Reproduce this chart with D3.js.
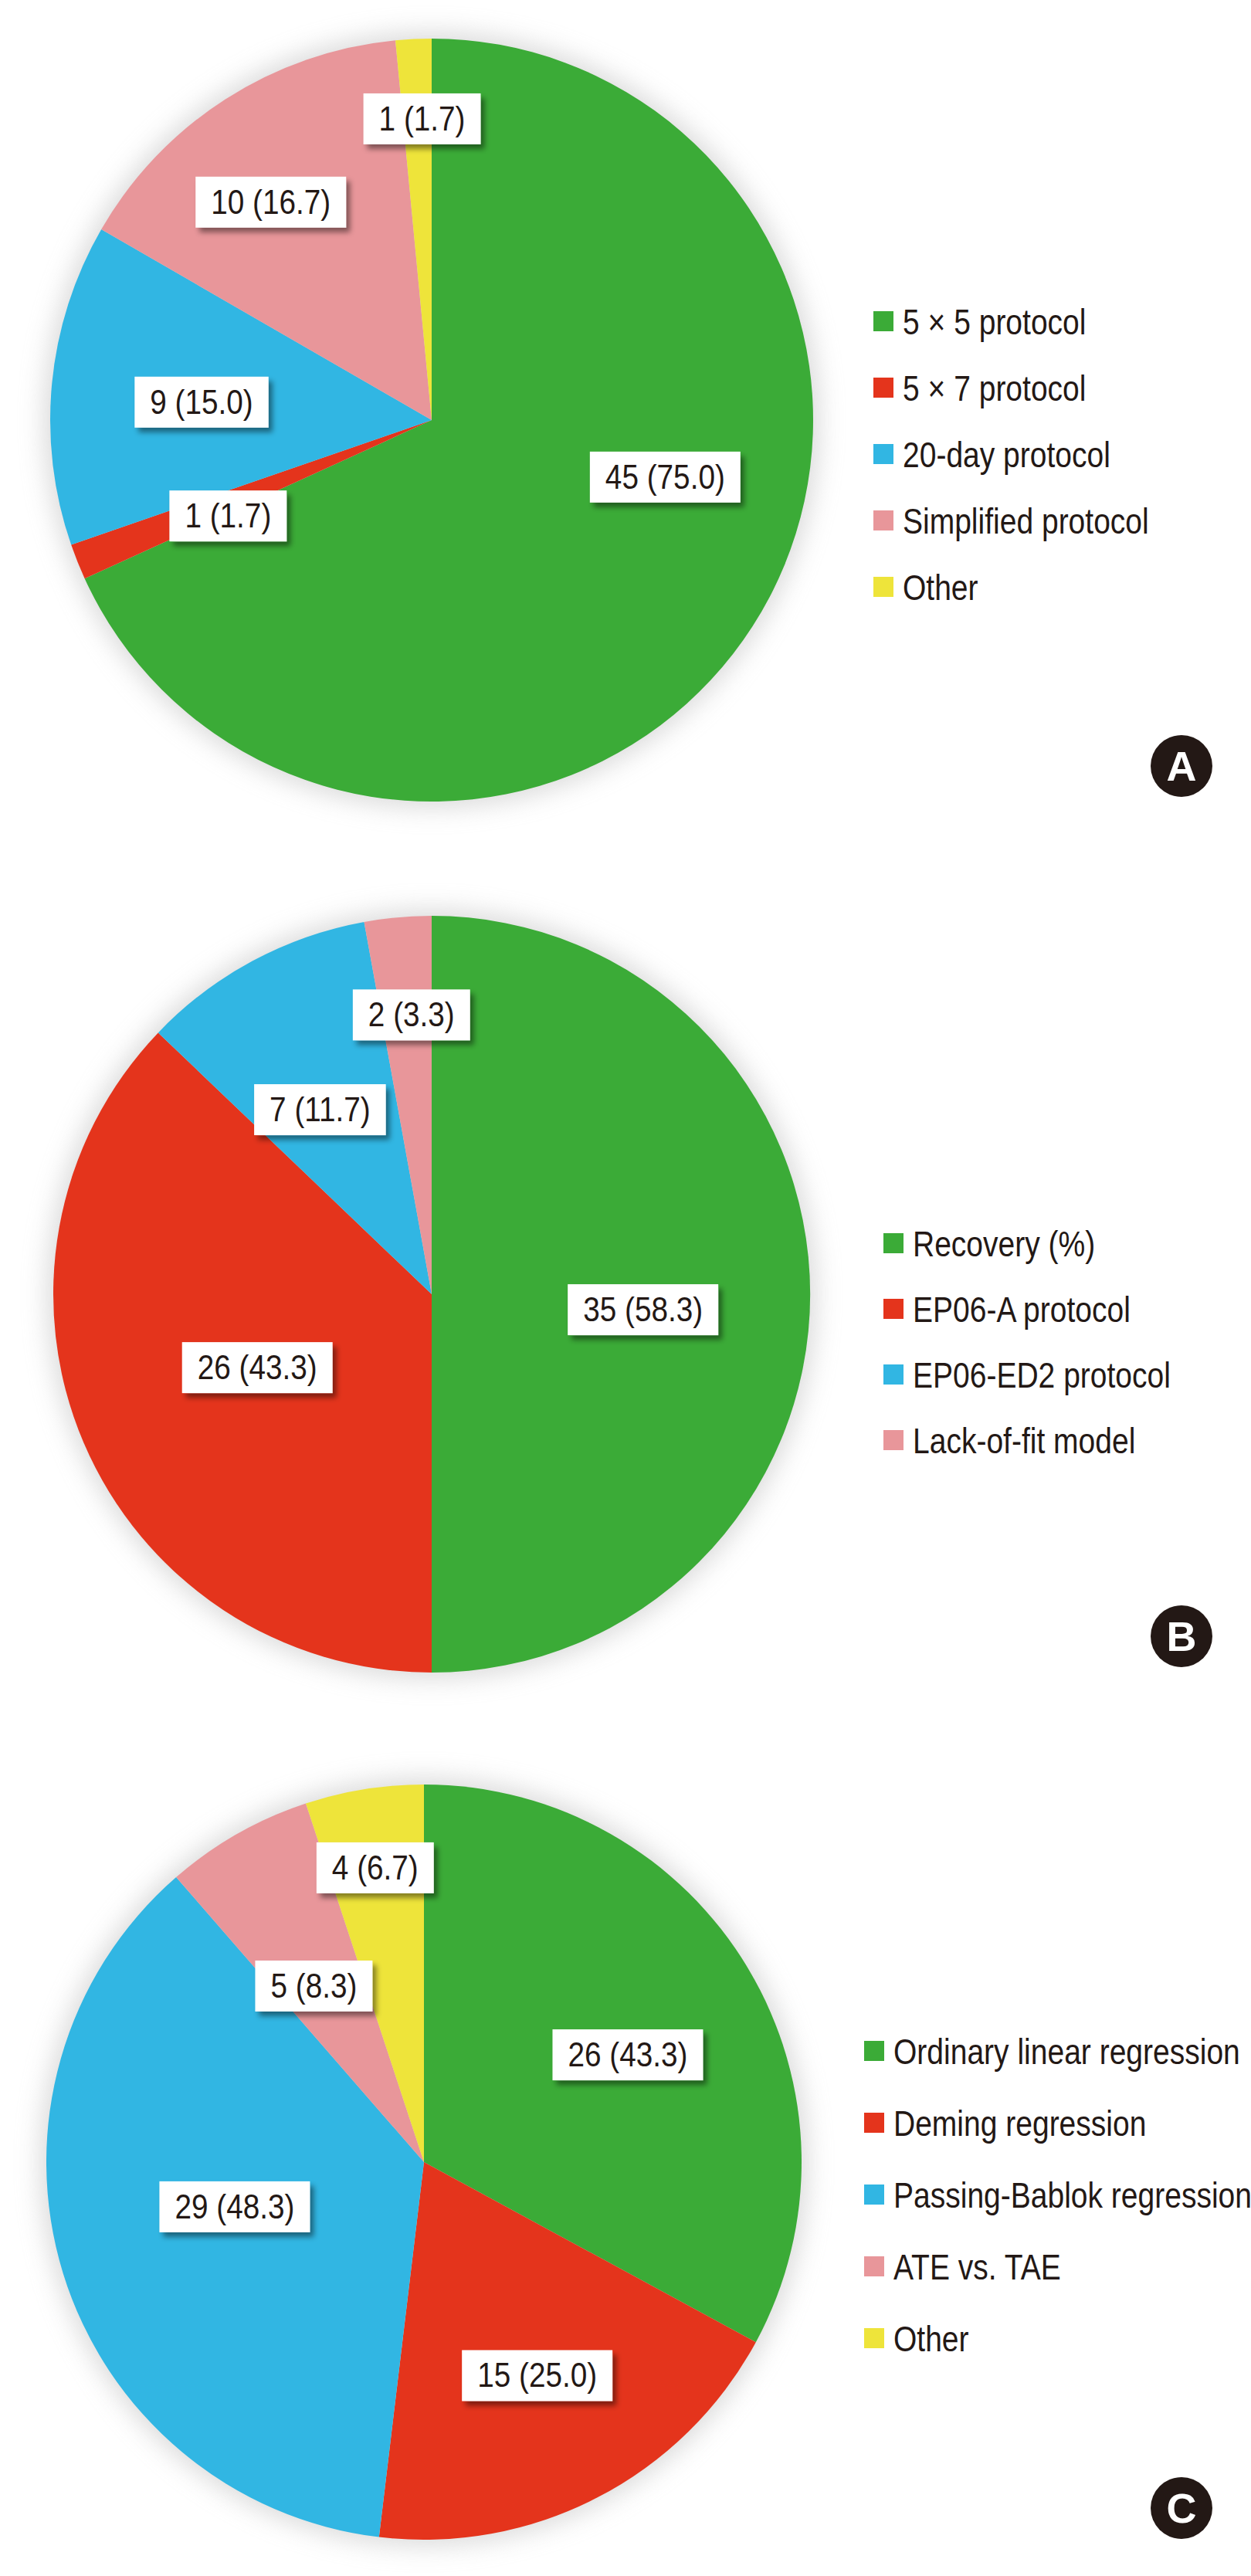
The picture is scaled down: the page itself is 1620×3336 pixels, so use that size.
<!DOCTYPE html>
<html>
<head>
<meta charset="utf-8">
<script src="https://cdn.jsdelivr.net/npm/d3@7"></script>
<style>
  html, body { margin: 0; padding: 0; background: #fff; }
  svg { display: block; }
</style>
</head>
<body>
<svg id="chart"></svg>
<script>
const width = 1620
const height = 3336

// number of labs answering; percentages in the labels are value / totalLabs
const totalLabs = 60

const sliceColors = ["#3bab37", "#e4341c", "#31b6e3", "#e8969a", "#eee43a"]

const catsA = ["5 × 5 protocol", "5 × 7 protocol", "20-day protocol", "Simplified protocol", "Other"]
const valsA = [45, 1, 9, 10, 1]

const catsB = ["Recovery (%)", "EP06-A protocol", "EP06-ED2 protocol", "Lack-of-fit model"]
const valsB = [35, 26, 7, 2]

const catsC = ["Ordinary linear regression", "Deming regression", "Passing-Bablok regression", "ATE vs. TAE", "Other"]
const valsC = [26, 15, 29, 5, 4]

// layout of each panel (label boxes: fraction of radius + angle nudge in degrees)
const panels = [
  { tag: "A", cats: catsA, vals: valsA, cx: 559, cy: 544, r: 494,
    legX: 1131, legY: 416, legStep: 86, badge: [1530, 992],
    labR: [.63, .59, .605, .71, .79], labShift: [-19, -3.4, -1, -3.7, .9] },
  { tag: "B", cats: catsB, vals: valsB, cx: 559, cy: 1676, r: 490,
    legX: 1144, legY: 1610, legStep: 85, badge: [1530, 2119],
    labR: [.56, .50, .57, .74], labShift: [4.2, .3, -2.9, 1] },
  { tag: "C", cats: catsC, vals: valsC, cx: 549, cy: 2800, r: 489,
    legX: 1119, legY: 2656, legStep: 93, badge: [1530, 3248],
    labR: [.61, .64, .515, .55, .79], labShift: [3, -.6, 3.8, -2.4, -.3] }
]

// no narrow font installed: squeeze Liberation Sans horizontally instead
const font = "'Liberation Sans', Arial, sans-serif"
const labelSqueeze = .88
const legendSqueeze = .83

const svg = d3.select("#chart")
  .attr("width", width)
  .attr("height", height)

const defs = svg.append("defs")
defs.append("filter").attr("id", "glow")
  .attr("x", "-20%").attr("y", "-20%").attr("width", "140%").attr("height", "140%")
  .append("feGaussianBlur").attr("stdDeviation", 16)

const shadow = defs.append("filter").attr("id", "boxShadow")
  .attr("x", "-20%").attr("y", "-30%").attr("width", "150%").attr("height", "180%")
shadow.append("feDropShadow")
  .attr("dx", 5).attr("dy", 6).attr("stdDeviation", 3.5)
  .attr("flood-color", "#000").attr("flood-opacity", .45)

const fmt = v => v + " (" + (v / totalLabs * 100).toFixed(1) + ")"

panels.forEach(p => {
  const g = svg.append("g")
  const color = d3.scaleOrdinal().domain(p.cats).range(sliceColors)
  const pie = d3.pie().sort(null).value(d => d.v)
  const arcs = pie(p.cats.map((c, i) => ({ c: c, v: p.vals[i] })))
  const arc = d3.arc().innerRadius(0).outerRadius(p.r)

  // soft grey halo round the pie
  g.append("circle")
    .attr("cx", p.cx).attr("cy", p.cy).attr("r", p.r + 8)
    .attr("fill", "#bdbdbd").attr("opacity", .55)
    .attr("filter", "url(#glow)")

  const pieG = g.append("g").attr("transform", `translate(${p.cx},${p.cy})`)
  pieG.selectAll("path")
    .data(arcs).enter()
    .append("path")
    .attr("d", arc)
    .attr("fill", d => color(d.data.c))

  // value labels in white boxes
  const labels = pieG.selectAll("g.lab")
    .data(arcs).enter()
    .append("g").attr("class", "lab")
    .attr("transform", (d, i) => {
      const a = (d.startAngle + d.endAngle) / 2 + p.labShift[i] * Math.PI / 180
      const rr = p.labR[i] * p.r
      return `translate(${rr * Math.sin(a)},${-rr * Math.cos(a)})`
    })
  const rects = labels.append("rect")
    .attr("fill", "#fff")
    .attr("filter", "url(#boxShadow)")
  const texts = labels.append("text")
    .attr("text-anchor", "middle")
    .attr("transform", `translate(0,15) scale(${labelSqueeze},1)`)
    .attr("font-family", font)
    .attr("font-size", 44)
    .attr("fill", "#231815")
    .text(d => fmt(d.data.v))
  texts.each(function(d, i) {
    const w = this.getComputedTextLength() * labelSqueeze + 40
    d3.select(rects.nodes()[i])
      .attr("x", -w / 2).attr("y", -33)
      .attr("width", w).attr("height", 66)
  })

  // legend
  const rows = g.append("g").selectAll("g")
    .data(p.cats).enter()
    .append("g")
    .attr("transform", (d, i) => `translate(${p.legX},${p.legY + i * p.legStep})`)
  rows.append("rect")
    .attr("x", 0).attr("y", -13)
    .attr("width", 26).attr("height", 26)
    .attr("fill", d => color(d))
  rows.append("text")
    .attr("transform", `translate(38,17) scale(${legendSqueeze},1)`)
    .attr("font-family", font)
    .attr("font-size", 47)
    .attr("fill", "#231815")
    .text(d => d)

  // panel badge
  g.append("circle")
    .attr("cx", p.badge[0]).attr("cy", p.badge[1]).attr("r", 40)
    .attr("fill", "#231815")
  g.append("text")
    .attr("x", p.badge[0]).attr("y", p.badge[1] + 19)
    .attr("text-anchor", "middle")
    .attr("font-family", font)
    .attr("font-weight", 700)
    .attr("font-size", 54)
    .attr("fill", "#fff")
    .text(p.tag)
})
</script>
</body>
</html>
